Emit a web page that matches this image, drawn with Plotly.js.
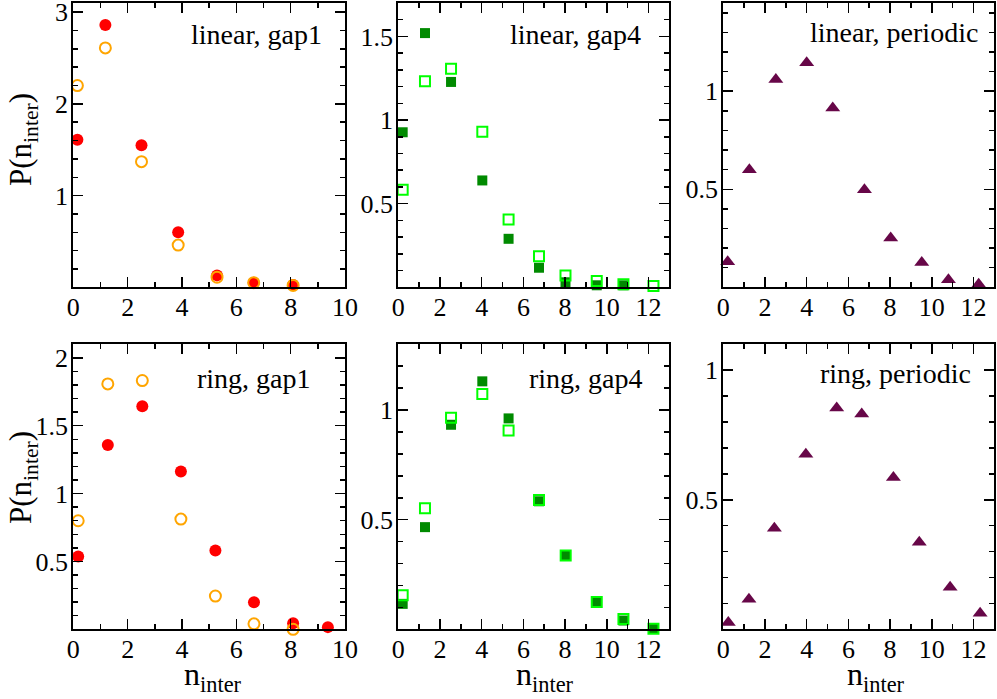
<!DOCTYPE html>
<html>
<head>
<meta charset="utf-8">
<script src="https://cdn.plot.ly/plotly-3.0.1.min.js"></script>
<style>html,body{margin:0;padding:0;background:#fff;}#chart{width:997px;height:699px;}</style>
</head>
<body>
<div id="chart"></div>
<script>
// ---- data ----
// linear, gap1
const xLinGap1 = [0.15, 1.18, 2.51, 3.86, 5.29, 6.64, 8.09];
const linGap1Filled = [1.61, 2.86, 1.55, 0.60, 0.13, 0.05, 0.025];
const linGap1Open = [2.20, 2.61, 1.37, 0.46, 0.11, 0.05, 0.02];
// linear, gap4
const xLinGap4 = [0.21, 1.28, 2.53, 4.03, 5.29, 6.75, 8.02, 9.52, 10.8, 12.24];
const linGap4Filled = [0.927, 1.52, 1.228, 0.639, 0.29, 0.117, 0.03, 0.012, 0.012];
const linGap4Open = [0.583, 1.232, 1.307, 0.93, 0.405, 0.186, 0.071, 0.038, 0.018, 0.008];
// linear, periodic
const xLinPer = [0.21, 1.25, 2.52, 4.0, 5.25, 6.77, 8.03, 9.52, 10.8, 12.25];
const linPer = [0.13, 0.60, 1.06, 1.145, 0.915, 0.497, 0.252, 0.126, 0.039, 0.015];
// ring, gap1
const xRingGap1 = [0.18, 1.27, 2.54, 3.96, 5.23, 6.65, 8.09, 9.37];
const ringGap1Filled = [0.537, 1.358, 1.643, 1.162, 0.581, 0.20, 0.045, 0.016];
const ringGap1Open = [0.80, 1.808, 1.833, 0.812, 0.245, 0.04, 0.0];
// ring, gap4
const xRingGap4 = [0.21, 1.28, 2.53, 4.03, 5.29, 6.75, 8.03, 9.52, 10.8, 12.24];
const ringGap4Filled = [0.116, 0.466, 0.933, 1.131, 0.962, 0.584, 0.335, 0.125, 0.04, 0.003];
const ringGap4Open = [0.155, 0.552, 0.965, 1.073, 0.907, 0.59, 0.337, 0.125, 0.047, 0.003];
// ring, periodic
const xRingPer = [0.24, 1.23, 2.45, 3.96, 5.44, 6.64, 8.16, 9.4, 10.88, 12.32];
const ringPer = [0.026, 0.116, 0.39, 0.676, 0.854, 0.831, 0.586, 0.336, 0.162, 0.062];

const panelLabels = ["linear, gap1", "linear, gap4", "linear, periodic", "ring, gap1", "ring, gap4", "ring, periodic"];
const xTicksGap1 = [0, 2, 4, 6, 8, 10];
const xTicksOther = [0, 2, 4, 6, 8, 10, 12];

// ---- styling ----
const W = 997, H = 699;
const FONT = "'Liberation Serif', 'Times New Roman', serif";
const RED = "#ff0000", ORANGE = "#ffa500", DKGREEN = "#008a00", LTGREEN = "#00ff00", MAROON = "#670748";

const px = v => v / W;
const py = v => 1 - v / H;

const colDom = [[px(73.3), px(345)], [px(398.3), px(669.3)], [px(723.3), px(994.3)]];
const rowDom = [[py(287.3), py(3)], [py(629.3), py(344.3)]];

function filled(x, y, color, symbol, size, ax) {
  const n = Math.min(x.length, y.length);
  return {x: x.slice(0, n), y: y.slice(0, n), mode: "markers", type: "scatter",
    xaxis: "x" + ax, yaxis: "y" + ax, cliponaxis: false, hoverinfo: "skip",
    marker: {symbol: symbol, size: size, color: color, line: {width: 0}}};
}
function open(x, y, color, symbol, size, ax) {
  const n = Math.min(x.length, y.length);
  return {x: x.slice(0, n), y: y.slice(0, n), mode: "markers", type: "scatter",
    xaxis: "x" + ax, yaxis: "y" + ax, cliponaxis: false, hoverinfo: "skip",
    marker: {symbol: symbol + "-open", size: size, color: color, line: {width: 2, color: color}}};
}

const data = [
  filled(xLinGap1, linGap1Filled, RED, "circle", 12, ""),
  open(xLinGap1, linGap1Open, ORANGE, "circle", 11, ""),
  filled(xLinGap4, linGap4Filled, DKGREEN, "square", 10, "2"),
  open(xLinGap4, linGap4Open, LTGREEN, "square", 10, "2"),
  filled(xLinPer, linPer, MAROON, "triangle-up", 13, "3"),
  filled(xRingGap1, ringGap1Filled, RED, "circle", 12, "4"),
  open(xRingGap1, ringGap1Open, ORANGE, "circle", 11, "4"),
  filled(xRingGap4, ringGap4Filled, DKGREEN, "square", 10, "5"),
  open(xRingGap4, ringGap4Open, LTGREEN, "square", 10, "5"),
  filled(xRingPer, ringPer, MAROON, "triangle-up", 13, "6")
];

function axisBase() {
  return {showline: true, linecolor: "#000", linewidth: 2, mirror: "allticks",
    ticks: "inside", ticklen: 10, tickwidth: 1.5, tickcolor: "#000",
    showgrid: false, zeroline: false, fixedrange: true, ticklabeloverflow: "allow",
    tickfont: {family: FONT, size: 26, color: "#000"}};
}
function xAxis(col, rng, ticks, anchor) {
  const a = axisBase();
  a.domain = colDom[col]; a.range = rng; a.anchor = anchor;
  a.tickmode = "array"; a.tickvals = ticks; a.ticktext = ticks.map(String);
  a.minor = {tickmode: "linear", tick0: 0, dtick: 1, ticks: "inside", ticklen: 5, tickwidth: 1.5, tickcolor: "#000", showgrid: false};
  a.ticklabelstandoff = -5;
  return a;
}
function yAxis(row, rng, major, minor, anchor) {
  const a = axisBase();
  a.domain = rowDom[row]; a.range = rng; a.anchor = anchor;
  const vals = [], txt = [];
  for (let k = 0; k * major <= rng[1] + 1e-9; k++) {
    const v = +(k * major).toFixed(3);
    vals.push(v); txt.push(k === 0 ? "" : String(v));
  }
  a.tickmode = "array"; a.tickvals = vals; a.ticktext = txt;
  a.minor = {tickmode: "linear", tick0: 0, dtick: minor, ticks: "inside", ticklen: 5, tickwidth: 1.5, tickcolor: "#000", showgrid: false};
  a.ticklabelstandoff = -2;
  return a;
}

const layout = {
  width: W, height: H, margin: {l: 0, r: 0, t: 0, b: 0},
  paper_bgcolor: "#fff", plot_bgcolor: "#fff", showlegend: false,
  font: {family: FONT, color: "#000"},
  xaxis: xAxis(0, [0, 10], xTicksGap1, "y"),
  yaxis: yAxis(0, [0, 3.1], 1, 0.2, "x"),
  xaxis2: xAxis(1, [0, 13], xTicksOther, "y2"),
  yaxis2: yAxis(0, [0, 1.7], 0.5, 0.1, "x2"),
  xaxis3: xAxis(2, [0, 13], xTicksOther, "y3"),
  yaxis3: yAxis(0, [0, 1.45], 0.5, 0.1, "x3"),
  xaxis4: xAxis(0, [0, 10], xTicksGap1, "y4"),
  yaxis4: yAxis(1, [0, 2.1], 0.5, 0.1, "x4"),
  xaxis5: xAxis(1, [0, 13], xTicksOther, "y5"),
  yaxis5: yAxis(1, [0, 1.3], 0.5, 0.1, "x5"),
  xaxis6: xAxis(2, [0, 13], xTicksOther, "y6"),
  yaxis6: yAxis(1, [0, 1.1], 0.5, 0.1, "x6"),
  annotations: []
};

// panel labels (right-aligned, inside top-right)
const labelPos = [[324, 35], [643.3, 35], [980, 33], [313.3, 378], [645, 378], [973.3, 373]];
panelLabels.forEach((t, i) => {
  layout.annotations.push({text: t, xref: "paper", yref: "paper", x: px(labelPos[i][0]), y: py(labelPos[i][1]),
    xanchor: "right", yanchor: "middle", showarrow: false, font: {family: FONT, size: 28, color: "#000"}});
});
// y-axis titles
[140, 478].forEach(c => {
  layout.annotations.push({text: "P(n<sub>inter</sub>)", xref: "paper", yref: "paper", x: px(1), y: py(c),
    xanchor: "left", yanchor: "middle", textangle: -90, showarrow: false, font: {family: FONT, size: 31, color: "#000"}});
});
// x-axis titles (bottom row)
[182, 514, 845].forEach(l => {
  layout.annotations.push({text: "n<sub>inter</sub>", xref: "paper", yref: "paper", x: px(l), y: 0,
    xanchor: "left", yanchor: "bottom", showarrow: false, font: {family: FONT, size: 32, color: "#000"}});
});

Plotly.newPlot("chart", data, layout, {staticPlot: true, displayModeBar: false});
</script>
</body>
</html>
